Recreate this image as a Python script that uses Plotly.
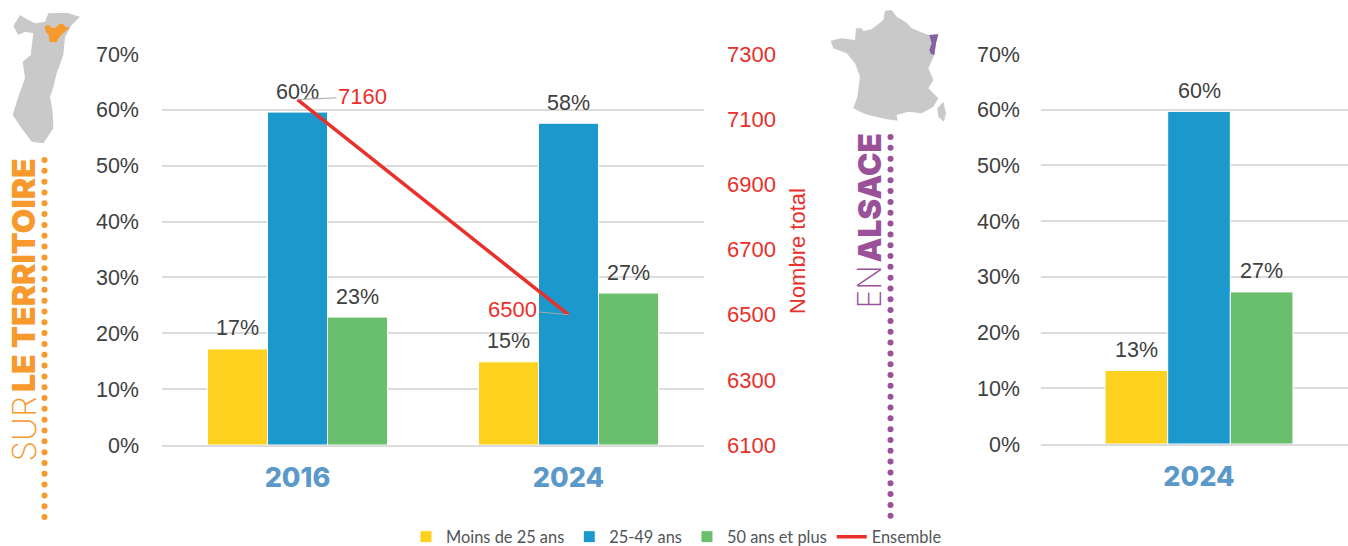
import plotly.graph_objects as go

W, H = 1348, 546
categories_left = ["2016", "2024"]
categories_right = ["2024"]
series_names = ["Moins de 25 ans", "25-49 ans", "50 ans et plus"]
left_values = {
    "Moins de 25 ans": [0.172, 0.149],
    "25-49 ans": [0.596, 0.576],
    "50 ans et plus": [0.229, 0.272],
}
right_values = {
    "Moins de 25 ans": [0.132],
    "25-49 ans": [0.597],
    "50 ans et plus": [0.273],
}
ensemble = [7160, 6500]
colors = {"Moins de 25 ans": "#FDD21F", "25-49 ans": "#1B99CD", "50 ans et plus": "#69BF6B"}
RED = "#E9302A"
DARK = "#404040"
BLUE = "#5A99C9"
ORANGE = "#F7992D"
PURPLE = "#9A5199"
GREY = "#C9C9C9"

z1 = lambda pts: [(x / 3, y / 3) for x, y in pts]
alsace = z1([(40,78),(60,45),(75,55),(105,70),(135,65),(145,40),(200,38),(240,50),(215,75),(195,110),(190,165),(170,220),(160,262),(150,290),(158,335),(160,385),(130,430),(95,425),(65,385),(38,345),(55,290),(75,235),(68,185),(92,165),(100,100),(75,95),(55,105)])
territoire = z1([(135,80),(147,76),(152,83),(165,86),(180,72),(192,75),(194,83),(207,84),(192,95),(184,103),(175,114),(168,126),(150,124),(148,105),(140,97)])
zf = lambda pts: [(800 + x / 3, y / 3) for x, y in pts]
france = zf([(92,122),(125,115),(165,120),(168,85),(185,85),(190,93),(215,88),(250,60),(255,32),(275,30),(290,50),(320,68),(335,85),(385,105),(415,103),(408,130),(403,165),(385,205),(400,240),(385,265),(415,295),(400,320),(365,340),(325,335),(290,345),(293,362),(260,358),(205,345),(190,340),(160,325),(172,290),(180,230),(165,190),(140,160),(100,145)])
corse = zf([(430,305),(438,340),(432,365),(415,350),(412,325)])
alsace_fr = zf([(388,105),(415,103),(408,130),(403,165),(393,162),(388,150),(395,130)])

px = lambda x: x / W
py = lambda y: 1 - y / H


def poly(pts, color, lw=0):
    d = "M" + "L".join(f"{px(x):.5f},{py(y):.5f}" for x, y in pts) + "Z"
    return dict(type="path", xref="paper", yref="paper", path=d, fillcolor=color, line=dict(width=lw, color=color), layer="below")


def dots(x, y0, y1, color, step=10.82, r=3):
    out = []
    y = y0
    while y <= y1 + 0.5:
        out.append(dict(type="circle", xref="paper", yref="paper", x0=px(x - r), x1=px(x + r), y0=py(y - r), y1=py(y + r),
                        fillcolor=color, line=dict(width=0)))
        y += step
    return out


fig = go.Figure()
L0, L1 = 162, 704
R0, R1 = 1041, 1348
T, B = 54, 445
BAR_W = 0.2213
R_UNIT = 283

for name in series_names:
    fig.add_bar(x=categories_left, y=left_values[name], name=name, marker=dict(color=colors[name], line=dict(color="white", width=1)),
                xaxis="x", yaxis="y", legendgroup=name)
fig.add_scatter(x=categories_left, y=ensemble, name="Ensemble", mode="lines", line=dict(color=RED, width=3.5), xaxis="x", yaxis="y2")
for name in series_names:
    fig.add_bar(x=categories_right, y=right_values[name], name=name, marker=dict(color=colors[name], line=dict(color="white", width=1)),
                xaxis="x3", yaxis="y3", legendgroup=name, showlegend=False)

annotations = []
for j, name in enumerate(series_names):
    for i, v in enumerate(left_values[name]):
        annotations.append(dict(xref="x", yref="y", x=i + (j - 1) * BAR_W, y=v, text=f"{v * 100:.0f}%", showarrow=False, yanchor="bottom",
                                yshift=6.5, font=dict(size=21.5, color=DARK, family="Liberation Sans")))
    for i, v in enumerate(right_values[name]):
        annotations.append(dict(xref="x3", yref="y3", x=i + (j - 1) * BAR_W, y=v, text=f"{v * 100:.0f}%", showarrow=False, yanchor="bottom",
                                yshift=6.5, font=dict(size=21.5, color=DARK, family="Liberation Sans")))
for i, (v, ax, ay) in enumerate(zip(ensemble, [65, -56], [-3, -5])):
    annotations.append(dict(xref="x", yref="y2", x=i, y=v, text=str(v), showarrow=True, arrowhead=0, arrowcolor="#A6A6A6", arrowwidth=1,
                            ax=ax, ay=ay, font=dict(size=22, color=RED, family="Liberation Sans")))


def rot(text, x, y, color, weight, size, family="Inter"):
    return dict(xref="paper", yref="paper", x=px(x), y=py(y), text=text, textangle=-90, showarrow=False, xanchor="center", yanchor="bottom",
                font=dict(size=size, color=color, family=family, weight=weight))


annotations += [
    rot("SUR", 23, 464, ORANGE, 200, 33),
    rot("LE TERRITOIRE", 23, 394, ORANGE, 900, 32),
    rot("EN", 869, 311, PURPLE, 200, 32),
    rot("ALSACE", 869, 265, PURPLE, 900, 31.5),
    rot("Nombre total", 797, 316, RED, 400, 22, "Liberation Sans"),
]

shapes = [poly(alsace, GREY), poly(territoire, ORANGE, 1), poly(france, GREY), poly(corse, GREY), poly(alsace_fr, "#8560A8")]
shapes += dots(44.5, 160, 518, ORANGE) + dots(890.5, 137, 518, PURPLE)

pct_axis = dict(range=[0, 0.7], dtick=0.1, tickformat=".0%", gridcolor="#DCDCDC", gridwidth=1.5, zeroline=False, showline=False, automargin=False,
                ticks="", tickfont=dict(size=21.5, color=DARK, family="Liberation Sans"))
cat_font = dict(size=27, color=BLUE, family="Inter", weight=800)

fig.update_layout(
    width=W, height=H, margin=dict(l=0, r=0, t=0, b=0, autoexpand=False), paper_bgcolor="white", plot_bgcolor="white",
    barmode="group", bargap=0.336, bargroupgap=0,
    annotations=annotations, shapes=shapes,
    legend=dict(orientation="h", xref="container", yref="container", x=px(406), y=py(537), yanchor="middle", xanchor="left",
                font=dict(size=16.4, color="#505558", family="Lato"), traceorder="normal", itemwidth=30, bgcolor="rgba(0,0,0,0)"),
    xaxis=dict(domain=[px(L0), px(L1)], range=[-0.5, 1.5], anchor="y", type="category", showgrid=False, ticks="", tickfont=cat_font, automargin=False,
               ticklabelstandoff=8, showline=True, linecolor="#DCDCDC", linewidth=1.5),
    yaxis=dict(domain=[py(B), py(T)], anchor="x", ticklabelstandoff=22, **pct_axis),
    yaxis2=dict(domain=[py(B), py(T)], range=[6100, 7300], tick0=6100, dtick=200, overlaying="y", side="right", anchor="x", showgrid=False, automargin=False,
                zeroline=False, ticks="", tickfont=dict(size=22, color=RED, family="Liberation Sans"), ticklabelstandoff=22),
    xaxis3=dict(domain=[px(R0), px(R1)], range=[-158 / R_UNIT, 149 / R_UNIT], anchor="y3", type="category", showgrid=False, ticks="", tickfont=cat_font, automargin=False,
                ticklabelstandoff=8, showline=True, linecolor="#DCDCDC", linewidth=1.5),
    yaxis3=dict(domain=[py(444), py(54)], anchor="x3", ticklabelstandoff=20, **pct_axis),
)
fig.write_html("out.html", default_width="1348px", default_height="546px", config=dict(displayModeBar=False, responsive=False),
               post_script="document.body.style.margin='0';document.body.style.overflow='hidden';")
